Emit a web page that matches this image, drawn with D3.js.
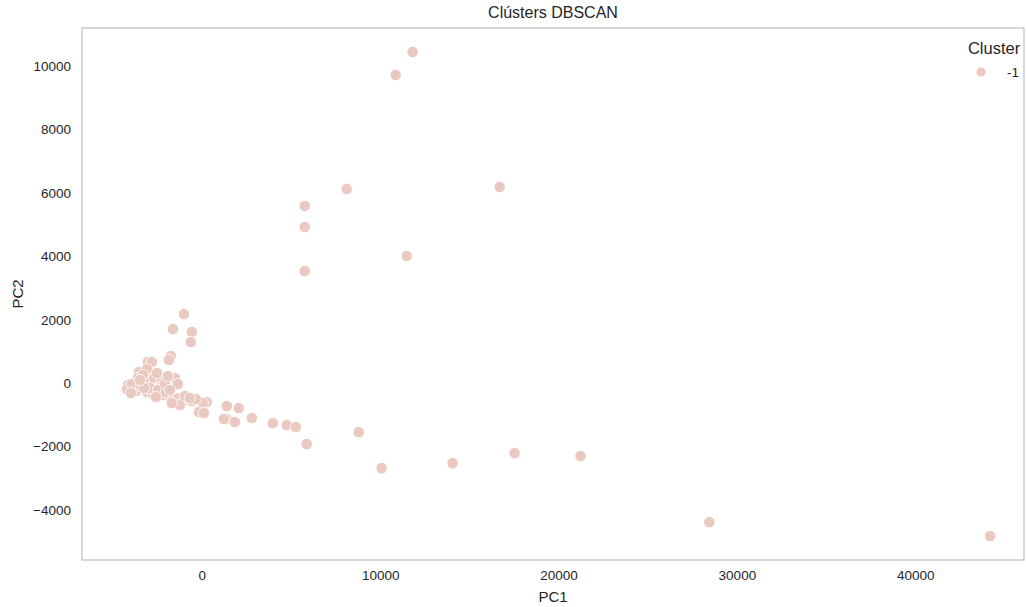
<!DOCTYPE html>
<html>
<head>
<meta charset="utf-8">
<script src="https://cdn.jsdelivr.net/npm/d3@7"></script>
<style>
  html, body { margin: 0; padding: 0; background: #ffffff; }
  svg { display: block; }
  text { font-family: "Liberation Sans", Arial, sans-serif; fill: #262626; }
</style>
</head>
<body>
<svg id="chart" width="1026" height="607"></svg>
<script>
// Principal-component coordinates of each observation (all labelled as noise, cluster -1)
const pc1 = [
  -1008, -1625, -560, -616, -1737, -1849, -3025, -2801, -3529, -3081,
  -3585, -3137, -2689, -2241, -1513, -1345, -2297, -4145, -4202, -3697,
  -3081, -2745, -2241, -1737, -1288, -840, -1232, -1681, 280, 56,
  -168, 112, 1400, 2073, 1400, 1849, 2801, 3977, 4762, 5266,
  5882, 8795, 10084, 14061, 17534, 21231, 28458, 44200, 5770, 11484,
  5770, 5770, 8123, 16700, 10868, 11820, 1232,
  -3921, -3417, -2913, -2465, -2017, -3305, -2521, -2073, -1793, -952,
  -560, -336, -2577, -3977, -3249, -3473, -1905, -672
];
const pc2 = [
  2177, 1703, 1609, 1293, 852, 726, 663, 663, 347, 442,
  158, 0, 158, 95, 158, -32, -126, -63, -189, -252,
  -284, -347, -379, -473, -473, -536, -694, -631, -600, -631,
  -915, -947, -726, -789, -1136, -1230, -1104, -1262, -1325, -1388,
  -1925, -1546, -2682, -2524, -2209, -2303, -4385, -4827, 3534, 4007,
  4922, 5584, 6121, 6184, 9717, 10443, -1136,
  -32, -95, -158, -221, -284, 252, 316, 0, -221, -410,
  -568, -505, -442, -315, -158, 95, 221, -473
];
const clusterLabels = pc1.map(() => -1);
const clusterNames = [-1];

const xTicks = [0, 10000, 20000, 30000, 40000];
const yTicks = [-4000, -2000, 0, 2000, 4000, 6000, 8000, 10000];

const svg = d3.select("#chart");
const W = 1026, H = 607;
const margin = { top: 28, right: 2, bottom: 47, left: 82 };
const iw = W - margin.left - margin.right;
const ih = H - margin.top - margin.bottom;

const x = d3.scaleLinear().domain([-6720, 46100]).range([0, iw]);
const y = d3.scaleLinear().domain([-5580, 11200]).range([ih, 0]);
const color = d3.scaleOrdinal().domain(clusterNames).range(["#eacac0"]);

const g = svg.append("g").attr("transform", `translate(${margin.left},${margin.top})`);

// Axes: labels only, no tick lines
const fmt = d => d < 0 ? "\u2212" + Math.abs(d) : String(d);
const xAxis = g.append("g").attr("transform", `translate(0,${ih})`)
  .call(d3.axisBottom(x).tickValues(xTicks).tickFormat(fmt).tickSize(0).tickPadding(10));
const yAxis = g.append("g")
  .call(d3.axisLeft(y).tickValues(yTicks).tickFormat(fmt).tickSize(0).tickPadding(11));
[xAxis, yAxis].forEach(a => {
  a.select(".domain").remove();
  a.selectAll("text").attr("font-size", 13.5).attr("fill", "#262626")
    .attr("font-family", "Liberation Sans, Arial, sans-serif");
});

// Points
const pts = pc1.map((v, i) => ({ x: v, y: pc2[i], c: clusterLabels[i] }));
g.append("g").selectAll("circle").data(pts).join("circle")
  .attr("cx", d => x(d.x)).attr("cy", d => y(d.y))
  .attr("r", 5.7)
  .attr("fill", d => color(d.c))
  .attr("stroke", "#ffffff").attr("stroke-width", 0.8);

// Plot frame
g.append("rect").attr("x", 0).attr("y", 0).attr("width", iw).attr("height", ih)
  .attr("fill", "none").attr("stroke", "#cccccc").attr("stroke-width", 1.5);

// Title and axis labels
svg.append("text").attr("x", margin.left + iw / 2).attr("y", 18)
  .attr("text-anchor", "middle").attr("font-size", 16).text("Clústers DBSCAN");
svg.append("text").attr("x", margin.left + iw / 2).attr("y", 602)
  .attr("text-anchor", "middle").attr("font-size", 15).text("PC1");
svg.append("text").attr("transform", `translate(23,${margin.top + ih / 2}) rotate(-90)`)
  .attr("text-anchor", "middle").attr("font-size", 15).text("PC2");

// Legend
const lg = svg.append("g").attr("transform", "translate(994,0)");
lg.append("text").attr("x", 0).attr("y", 54).attr("text-anchor", "middle")
  .attr("font-size", 16.5).text("Cluster");
lg.selectAll("g.item").data(clusterNames).join("g").attr("class", "item")
  .each(function (d, i) {
    const it = d3.select(this).attr("transform", `translate(0,${72 + i * 22})`);
    it.append("circle").attr("cx", -13).attr("cy", 0).attr("r", 5)
      .attr("fill", color(d)).attr("stroke", "#ffffff").attr("stroke-width", 0.8);
    it.append("text").attr("x", 13).attr("y", 5).attr("font-size", 13.5).text(d);
  });
</script>
</body>
</html>
